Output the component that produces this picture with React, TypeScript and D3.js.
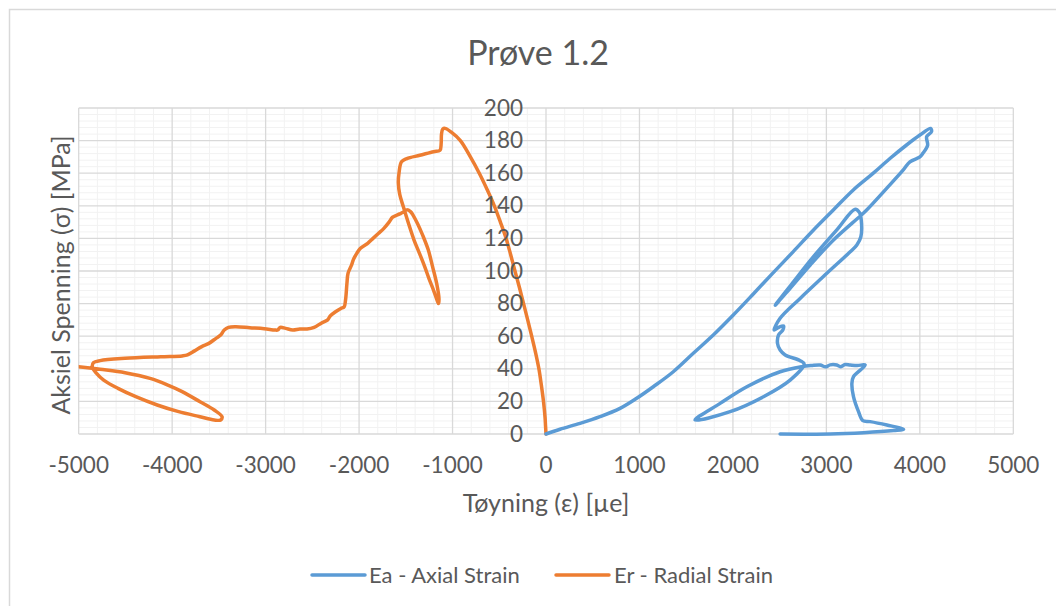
import React from "react";
import * as d3 from "d3";

const title = "Prøve 1.2";
const xTitle = "Tøyning (ε) [µe]";
const yTitle = "Aksiel Spenning (σ) [MPa]";
const xTicks = [-5000, -4000, -3000, -2000, -1000, 0, 1000, 2000, 3000, 4000, 5000];
const yTicks = [0, 20, 40, 60, 80, 100, 120, 140, 160, 180, 200];

// Ea - Axial Strain [strain, stress]
const axialStrain: number[] = [0, 150, 364, 578, 792, 970, 1148, 1362, 1576, 1790, 2004, 2218, 2432, 2646, 2860, 3074, 3288, 3502, 3680, 3858, 4001, 4115, 4125, 4073, 4083, 4030, 4001, 3894, 3823, 3645, 3431, 3362, 3076, 2827, 2612, 2452, 2648, 2862, 3112, 3308, 3355, 3373, 3369, 3326, 3255, 3005, 2719, 2505, 2441, 2488, 2541, 2534, 2488, 2477, 2505, 2559, 2719, 2762, 2612, 2327, 1970, 1595, 1863, 2149, 2505, 2737, 2840, 2934, 2990, 3040, 3112, 3150, 3200, 3255, 3330, 3415, 3290, 3273, 3290, 3344, 3390, 3469, 3647, 3826, 3719, 3398, 3041, 2505];
const axialStress: number[] = [0, 2.9, 6.5, 10.6, 15.7, 21.9, 29, 38.2, 49.5, 60.7, 73, 85.9, 99, 111.9, 125, 137.4, 149.7, 160, 169, 177.3, 183.4, 187.5, 185.5, 182.4, 177, 172, 170, 167, 162, 150.7, 137.4, 133.7, 119, 103.7, 89.4, 79, 93.4, 108.8, 125.2, 137.9, 135.8, 131.3, 121, 116, 111.8, 98.6, 83.2, 71, 63.8, 65.4, 66.3, 63.8, 60.7, 55.6, 51.5, 48.5, 45, 42.9, 33.1, 22.9, 13.7, 8.6, 18.8, 29, 38.2, 41.3, 42.0, 42.3, 41.2, 42.4, 42.3, 41.3, 42.6, 42.3, 42.0, 42.3, 35.2, 31.1, 22.9, 13.7, 8.2, 7.6, 5.5, 2.9, 2.1, 0.8, 0, 0];

// Er - Radial Strain [strain, stress]
const radialStrain: number[] = [0, -5, -10, -27, -50, -76, -112, -153, -196, -240, -285, -332, -378, -427, -488, -553, -630, -714, -809, -916, -1010, -1080, -1105, -1118, -1122, -1135, -1202, -1350, -1489, -1546, -1573, -1580, -1565, -1527, -1470, -1412, -1355, -1298, -1250, -1202, -1165, -1150, -1145, -1170, -1215, -1260, -1320, -1374, -1420, -1450, -1489, -1530, -1565, -1641, -1679, -1737, -1794, -1851, -1908, -1985, -2023, -2061, -2080, -2118, -2130, -2145, -2160, -2195, -2252, -2309, -2336, -2405, -2481, -2557, -2634, -2710, -2786, -2844, -2870, -2901, -3015, -3168, -3321, -3397, -3443, -3481, -3531, -3607, -3683, -3760, -3836, -3893, -4122, -4504, -4771, -4840, -4855, -4809, -4733, -4580, -4389, -4160, -3931, -3702, -3550, -3481, -3466, -3550, -3702, -3893, -4046, -4237, -4504, -4771, -5000, -5100];
const radialStress: number[] = [0, 5, 10, 20, 30, 40, 50, 60, 70, 80, 90, 100, 110, 120, 130, 140, 150, 160, 170, 180, 185, 187.5, 187, 184, 178, 174, 173.2, 171, 169, 167, 160, 154, 147, 139.5, 129, 119, 111, 102.7, 95, 88, 82, 80, 83, 92.4, 103, 113, 122, 129, 134, 136.4, 137.5, 136, 135, 133, 130, 126, 123, 120, 117, 114, 111, 107, 103.7, 98.6, 92.4, 82.2, 78, 77, 75, 72.4, 70, 68, 65.4, 64.4, 64.4, 63.8, 64.8, 65.4, 63.8, 63.8, 64.6, 65.2, 65.8, 65.4, 63.8, 60.7, 58.7, 55.6, 53.6, 51, 48.5, 47.9, 47.4, 46.4, 45, 43.8, 41.3, 37.2, 33.1, 28, 22.9, 17.8, 13.7, 10.6, 8.6, 8.6, 10.6, 14.7, 19.8, 26, 30, 34.1, 37.6, 39.7, 41.3, 42];

const W = 1056;
const H = 606;
const left = 78.7;
const right = 1013.3;
const top = 108;
const bottom = 434;
const FONT = "Lato, 'Open Sans', sans-serif";
const TXT = "#595959";
const BLUE = "#5b9bd5";
const ORANGE = "#ed7d31";

export default function App() {
  const x = d3.scaleLinear().domain([-5000, 5000]).range([left, right]);
  const y = d3.scaleLinear().domain([0, 200]).range([bottom, top]);
  const line = d3
    .line<[number, number]>()
    .x((d) => x(d[0]))
    .y((d) => y(d[1]))
    .curve(d3.curveCatmullRom.alpha(0.5));

  const axial: [number, number][] = axialStrain.map((v, i) => [v, axialStress[i]]);
  const radial: [number, number][] = radialStrain.map((v, i) => [v, radialStress[i]]);

  const minorX = d3.range(-5000, 5001, 200).filter((v) => v % 1000 !== 0);
  const minorY = d3.range(0, 201, 4).filter((v) => v % 20 !== 0);

  return (
    <div style={{ position: "absolute", left: 0, top: 0 }}>
      <svg width={W} height={H} style={{ display: "block", background: "#fff" }}>
        <rect x={9.5} y={9.5} width={1200} height={800} fill="#fff" stroke="#d9d9d9" strokeWidth={1.5} />
        <defs>
          <clipPath id="plotclip">
            <rect x={left} y={top - 5} width={right - left} height={bottom - top + 10} />
          </clipPath>
        </defs>
        {minorX.map((v) => (
          <line key={"mx" + v} x1={x(v)} x2={x(v)} y1={top} y2={bottom} stroke="#f2f2f2" strokeWidth={1} />
        ))}
        {minorY.map((v) => (
          <line key={"my" + v} x1={left} x2={right} y1={y(v)} y2={y(v)} stroke="#f2f2f2" strokeWidth={1} />
        ))}
        {xTicks.map((v) => (
          <line key={"gx" + v} x1={x(v)} x2={x(v)} y1={top} y2={bottom} stroke="#d9d9d9" strokeWidth={1.3} />
        ))}
        {yTicks.map((v) => (
          <line key={"gy" + v} x1={left} x2={right} y1={y(v)} y2={y(v)} stroke="#d9d9d9" strokeWidth={1.3} />
        ))}
        <g clipPath="url(#plotclip)">
          <path d={line(radial) || ""} fill="none" stroke={ORANGE} strokeWidth={3.5} strokeLinejoin="round" strokeLinecap="round" />
          <path d={line(axial) || ""} fill="none" stroke={BLUE} strokeWidth={3.5} strokeLinejoin="round" strokeLinecap="round" />
        </g>
        {yTicks.map((v) => (
          <text key={"ty" + v} x={x(0) - 23} y={y(v) + 7.5} textAnchor="end" fontFamily={FONT} fontSize={22.5} fill={TXT}>
            {v}
          </text>
        ))}
        {xTicks.map((v) => (
          <text key={"tx" + v} x={x(v)} y={473} textAnchor="middle" fontFamily={FONT} fontSize={22.5} fill={TXT}>
            {v}
          </text>
        ))}
        <text x={538} y={65} textAnchor="middle" fontFamily={FONT} fontSize={34} fill={TXT}>
          {title}
        </text>
        <text x={546} y={512} textAnchor="middle" fontFamily={FONT} fontSize={25} fill={TXT}>
          {xTitle}
        </text>
        <text transform="translate(70,275) rotate(-90)" textAnchor="middle" fontFamily={FONT} fontSize={25} fill={TXT}>
          {yTitle}
        </text>
        <line x1={312} x2={365} y1={575} y2={575} stroke={BLUE} strokeWidth={3.5} strokeLinecap="round" />
        <text x={369} y={583} fontFamily={FONT} fontSize={22} fill={TXT}>
          Ea - Axial Strain
        </text>
        <line x1={556} x2={609} y1={575} y2={575} stroke={ORANGE} strokeWidth={3.5} strokeLinecap="round" />
        <text x={614} y={583} fontFamily={FONT} fontSize={22} fill={TXT}>
          Er - Radial Strain
        </text>
      </svg>
    </div>
  );
}
